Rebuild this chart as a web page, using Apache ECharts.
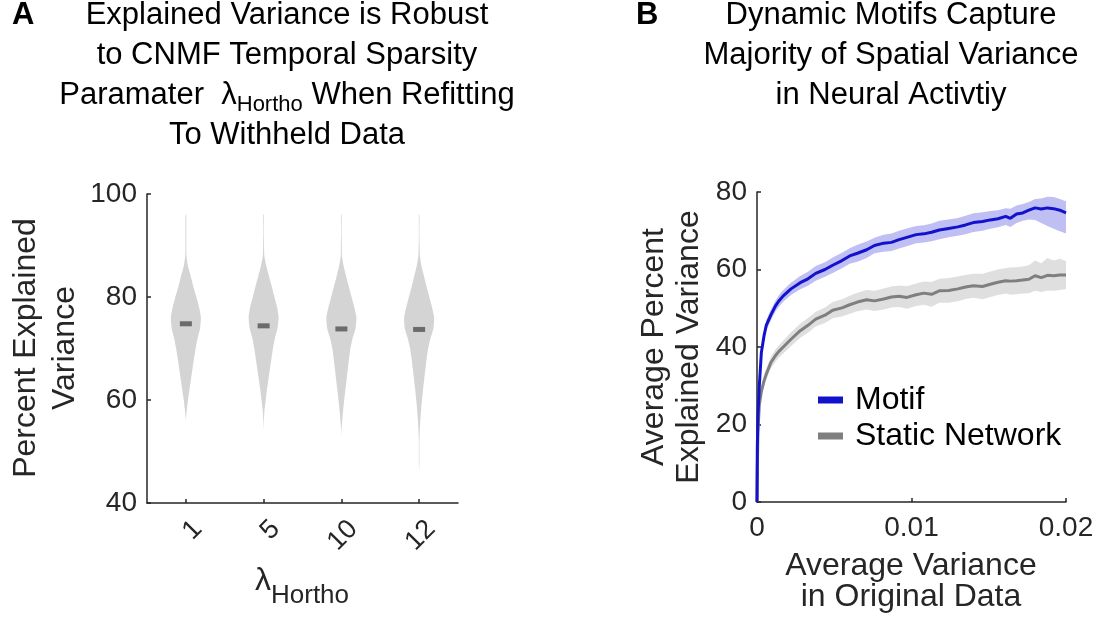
<!DOCTYPE html>
<html>
<head>
<meta charset="utf-8">
<script src="https://cdn.jsdelivr.net/npm/echarts@6/dist/echarts.min.js"></script>
<style>
  html, body { margin: 0; padding: 0; background: #fff; }
  #chart { width: 1117px; height: 621px; }
</style>
</head>
<body>
<div id="chart"></div>
<script>
const FONT = 'Liberation Sans, Arial, Helvetica, sans-serif';
const INK = '#262626';

// ---- Panel A: violins of explained variance per lambda_Hortho ----
const lambdaLabels = ['1', '5', '10', '12'];
const violinLevels = [46, 48, 50, 52, 54, 56, 58, 60, 62, 64, 66, 68, 70, 72, 74, 76, 78, 80, 82, 84, 86, 88, 90, 92, 94, 96];
// relative density (1 = widest point) at each level
const violinDensity1 = [0, 0, 0, 0, 0, 0, 0.06, 0.14, 0.24, 0.34, 0.44, 0.54, 0.65, 0.78, 0.95, 1.0, 0.88, 0.7, 0.5, 0.33, 0.14, 0.04, 0.03, 0.03, 0.03, 0.02];
const violinDensity2 = [0, 0, 0, 0, 0, 0.02, 0.06, 0.14, 0.22, 0.32, 0.42, 0.52, 0.62, 0.75, 0.93, 1.0, 0.9, 0.72, 0.55, 0.36, 0.18, 0.05, 0.03, 0.02, 0.02, 0.02];
const violinDensity3 = [0, 0, 0, 0, 0.01, 0.06, 0.12, 0.19, 0.27, 0.35, 0.43, 0.51, 0.6, 0.75, 0.95, 1.0, 0.86, 0.68, 0.5, 0.32, 0.15, 0.04, 0.03, 0.02, 0.02, 0.02];
const violinDensity4 = [0, 0.02, 0.02, 0.02, 0.04, 0.08, 0.13, 0.19, 0.26, 0.34, 0.42, 0.5, 0.6, 0.76, 0.96, 1.0, 0.86, 0.68, 0.5, 0.33, 0.16, 0.05, 0.03, 0.02, 0.02, 0.02];
const violinMedian = [74.8, 74.4, 73.8, 73.7];

// ---- Panel B: explained variance vs. variance in original data ----
const varianceX = [0, 0.00002, 0.00006, 0.00015, 0.00028, 0.00045, 0.0006, 0.0009, 0.0012, 0.0014, 0.0017, 0.0022, 0.0028, 0.0033, 0.0038, 0.0044, 0.0049, 0.0055, 0.006, 0.0065, 0.0071, 0.0076, 0.0082, 0.0087, 0.0092, 0.0097, 0.0103, 0.0108, 0.0113, 0.0118, 0.0124, 0.013, 0.0135, 0.014, 0.0146, 0.0151, 0.0156, 0.0161, 0.0164, 0.0168, 0.0172, 0.0176, 0.018, 0.0184, 0.0188, 0.0192, 0.0196, 0.02];
const motifMean = [0, 14, 22, 30, 38.5, 42.8, 45.6, 48.3, 50.6, 51.8, 53.2, 55.0, 56.6, 57.6, 59.0, 60.0, 61.1, 62.3, 63.5, 64.2, 65.1, 66.2, 66.8, 67.0, 67.7, 68.3, 69.0, 69.2, 69.6, 70.2, 70.6, 71.0, 71.5, 72.1, 72.4, 72.8, 73.1, 73.7, 73.2, 74.3, 74.6, 75.3, 75.9, 75.6, 75.9, 75.7, 75.3, 74.6];
const motifUpper = [0, 15, 23.5, 31.5, 40, 44.2, 47, 49.7, 52, 53.3, 54.7, 56.6, 58.3, 59.4, 60.9, 61.9, 63.1, 64.3, 65.5, 66.4, 67.2, 68.2, 69.0, 69.3, 70.0, 70.6, 71.2, 71.4, 71.9, 72.6, 72.9, 73.3, 73.9, 74.5, 74.8, 75.1, 75.3, 75.8, 75.7, 76.5, 76.9, 77.4, 78.2, 78.3, 78.8, 78.7, 78.2, 77.6];
const motifLower = [0, 13, 20.5, 28.5, 37, 41.4, 44.2, 46.9, 49.2, 50.3, 51.7, 53.4, 54.9, 55.8, 57.1, 58.1, 59.1, 60.3, 61.5, 62.0, 63.0, 64.2, 64.6, 64.8, 65.4, 66.0, 66.8, 67.0, 67.3, 67.8, 68.3, 68.7, 69.1, 69.7, 70.0, 70.5, 70.9, 71.5, 71.0, 72.0, 72.6, 72.9, 72.8, 72.0, 71.2, 70.5, 69.9, 69.3];
const staticMean = [0, 8, 18, 25, 28.5, 31.2, 33.0, 36.0, 37.8, 38.8, 40.0, 42.0, 44.2, 45.6, 47.2, 48.2, 49.5, 50.1, 50.9, 51.6, 52.2, 51.9, 52.4, 52.9, 53.1, 52.8, 53.5, 53.9, 53.6, 54.5, 54.6, 55.0, 55.5, 55.8, 55.6, 56.2, 56.7, 57.1, 57.0, 57.1, 57.3, 57.5, 58.4, 57.9, 58.5, 58.4, 58.6, 58.6];
const staticUpper = [0, 9, 19.5, 26.5, 30, 32.7, 34.5, 37.5, 39.4, 40.4, 41.7, 43.8, 46.0, 47.5, 49.1, 50.2, 51.6, 52.3, 53.2, 54.0, 54.7, 54.5, 55.1, 55.6, 55.9, 55.7, 56.4, 56.9, 56.8, 57.6, 57.8, 58.2, 58.6, 58.9, 58.9, 59.5, 60.0, 60.4, 60.5, 60.6, 60.8, 61.1, 62.3, 61.6, 63.0, 62.3, 62.8, 62.2];
const staticLower = [0, 7, 16.5, 23.5, 27, 29.7, 31.5, 34.5, 36.2, 37.2, 38.3, 40.2, 42.4, 43.7, 45.3, 46.2, 47.4, 47.9, 48.6, 49.2, 49.7, 49.3, 49.7, 50.2, 50.3, 49.9, 50.6, 50.9, 50.4, 51.4, 51.4, 51.8, 52.4, 52.7, 52.3, 52.9, 53.4, 53.8, 53.5, 53.6, 53.8, 53.9, 54.5, 54.2, 54.6, 54.5, 54.7, 55.0];

const titleA = [
    'Explained Variance is Robust',
    'to CNMF Temporal Sparsity',
    '{m|Paramater  λ}{s|Hortho}{m| When Refitting}',
    'To Withheld Data'
];
const titleB = [
    'Dynamic Motifs Capture',
    'Majority of Spatial Variance',
    'in Neural Activtiy'
];

const violinDensity = [violinDensity1, violinDensity2, violinDensity3, violinDensity4];
const VIOLIN_HALF = 0.193; // widest half-width, in category bands

function renderViolin(params, api) {
    const i = api.value(0);
    const dens = violinDensity[i];
    const band = api.size([1, 0])[0];
    const right = [];
    const left = [];
    violinLevels.forEach((lv, k) => {
        const p = api.coord([i, lv]);
        const hw = dens[k] * VIOLIN_HALF * band;
        right.push([p[0] + hw, p[1]]);
        left.unshift([p[0] - hw, p[1]]);
    });
    const m = api.coord([i, violinMedian[i]]);
    return {
        type: 'group',
        children: [
            { type: 'polygon', shape: { points: right.concat(left), smooth: 0.2 }, style: { fill: '#d4d4d4' } },
            { type: 'rect', shape: { x: m[0] - 6, y: m[1] - 2.5, width: 12, height: 5 }, style: { fill: '#6b6b6b' } }
        ]
    };
}

function bandRenderer(upper, lower, fill) {
    return function (params, api) {
        const top = varianceX.map((x, k) => api.coord([x, upper[k]]));
        const bottom = varianceX.map((x, k) => api.coord([x, lower[k]])).reverse();
        return { type: 'polygon', shape: { points: top.concat(bottom) }, style: { fill: fill } };
    };
}

const axisLine = { show: true, onZero: false, lineStyle: { color: INK, width: 1.5 } };
const axisTick = { show: true, inside: true, length: 4, lineStyle: { color: INK, width: 1.5 } };
const tickLabel = { fontSize: 28, fontFamily: FONT, color: INK };

const graphics = [];
graphics.push({ type: 'text', x: 12, y: 15, style: { text: 'A', fontSize: 31, fontWeight: 'bold', fontFamily: FONT, fill: '#000', align: 'left', verticalAlign: 'middle' } });
graphics.push({ type: 'text', x: 636, y: 15, style: { text: 'B', fontSize: 31, fontWeight: 'bold', fontFamily: FONT, fill: '#000', align: 'left', verticalAlign: 'middle' } });
titleA.forEach((line, k) => {
    graphics.push({
        type: 'text', x: 287, y: 15 + k * 40,
        style: {
            text: line, fontSize: 31, fontFamily: FONT, fill: '#000', align: 'center', verticalAlign: 'middle',
            rich: {
                m: { fontSize: 31, fontFamily: FONT, fill: '#000', lineHeight: 42 },
                s: { fontSize: 22, fontFamily: FONT, fill: '#000', lineHeight: 22, verticalAlign: 'bottom' }
            }
        }
    });
});
titleB.forEach((line, k) => {
    graphics.push({
        type: 'text', x: 891, y: 15 + k * 40,
        style: { text: line, fontSize: 31, fontFamily: FONT, fill: '#000', align: 'center', verticalAlign: 'middle' }
    });
});
// axis names
graphics.push({
    type: 'text', x: 46, y: 348, rotation: Math.PI / 2,
    style: { text: 'Percent Explained\nVariance', fontSize: 32, fontFamily: FONT, fill: INK, align: 'center', verticalAlign: 'middle', lineHeight: 39 }
});
graphics.push({
    type: 'text', x: 302, y: 581,
    style: {
        text: '{l|λ}{s|Hortho}', align: 'center', verticalAlign: 'middle',
        rich: {
            l: { fontSize: 32, fontFamily: FONT, fill: INK, lineHeight: 56 },
            s: { fontSize: 26, fontFamily: FONT, fill: INK, lineHeight: 26, verticalAlign: 'bottom' }
        }
    }
});
graphics.push({
    type: 'text', x: 672, y: 347, rotation: Math.PI / 2,
    style: { text: 'Average Percent\nExplained Variance', fontSize: 32, fontFamily: FONT, fill: INK, align: 'center', verticalAlign: 'middle', lineHeight: 35 }
});
graphics.push({
    type: 'text', x: 911, y: 582,
    style: { text: 'Average Variance\nin Original Data', fontSize: 32, fontFamily: FONT, fill: INK, align: 'center', verticalAlign: 'middle', lineHeight: 31 }
});

const option = {
    backgroundColor: '#fff',
    animation: false,
    grid: [
        { left: 147, top: 194, width: 311, height: 309 },
        { left: 757, top: 192, width: 309, height: 310 }
    ],
    xAxis: [
        {
            gridIndex: 0, type: 'category', data: lambdaLabels, boundaryGap: true,
            axisLine: axisLine,
            axisTick: Object.assign({}, axisTick, { alignWithLabel: true }),
            axisLabel: Object.assign({}, tickLabel, { fontSize: 27, interval: 0, rotate: 45, margin: 34, padding: [0, -17, 0, 0] }),
            splitLine: { show: false }
        },
        {
            gridIndex: 1, type: 'value', min: 0, max: 0.02, interval: 0.01,
            axisLine: axisLine, axisTick: axisTick,
            axisLabel: Object.assign({}, tickLabel, { margin: 12 }),
            splitLine: { show: false }
        }
    ],
    yAxis: [
        {
            gridIndex: 0, type: 'value', min: 40, max: 100, interval: 20,
            axisLine: axisLine, axisTick: axisTick,
            axisLabel: Object.assign({}, tickLabel, { margin: 10 }),
            splitLine: { show: false }
        },
        {
            gridIndex: 1, type: 'value', min: 0, max: 80, interval: 20,
            axisLine: axisLine, axisTick: axisTick,
            axisLabel: Object.assign({}, tickLabel, { margin: 10 }),
            splitLine: { show: false }
        }
    ],
    legend: {
        data: ['Motif', 'Static Network'],
        orient: 'vertical', left: 813, top: 379,
        icon: 'rect', itemWidth: 25, itemHeight: 7, itemGap: 4,
        textStyle: { fontSize: 32, fontFamily: FONT, color: '#000', padding: [0, 0, 0, 7] }
    },
    graphic: graphics,
    series: [
        {
            type: 'custom', name: 'violins', xAxisIndex: 0, yAxisIndex: 0,
            data: lambdaLabels.map((l, i) => [i]),
            renderItem: renderViolin, silent: true
        },
        {
            type: 'custom', name: 'staticBand', xAxisIndex: 1, yAxisIndex: 1, data: [[0, 0]],
            renderItem: bandRenderer(staticUpper, staticLower, 'rgba(128,128,128,0.25)'), silent: true, z: 1
        },
        {
            type: 'custom', name: 'motifBand', xAxisIndex: 1, yAxisIndex: 1, data: [[0, 0]],
            renderItem: bandRenderer(motifUpper, motifLower, 'rgba(60,60,220,0.33)'), silent: true, z: 1
        },
        {
            type: 'line', name: 'Static Network', xAxisIndex: 1, yAxisIndex: 1,
            data: varianceX.map((x, k) => [x, staticMean[k]]),
            showSymbol: false, lineStyle: { color: '#7f7f7f', width: 3 }, itemStyle: { color: '#7f7f7f' }, z: 3
        },
        {
            type: 'line', name: 'Motif', xAxisIndex: 1, yAxisIndex: 1,
            data: varianceX.map((x, k) => [x, motifMean[k]]),
            showSymbol: false, lineStyle: { color: '#1212cc', width: 3 }, itemStyle: { color: '#1212cc' }, z: 4
        }
    ]
};

const chart = echarts.init(document.getElementById('chart'));
chart.setOption(option);
</script>
</body>
</html>
